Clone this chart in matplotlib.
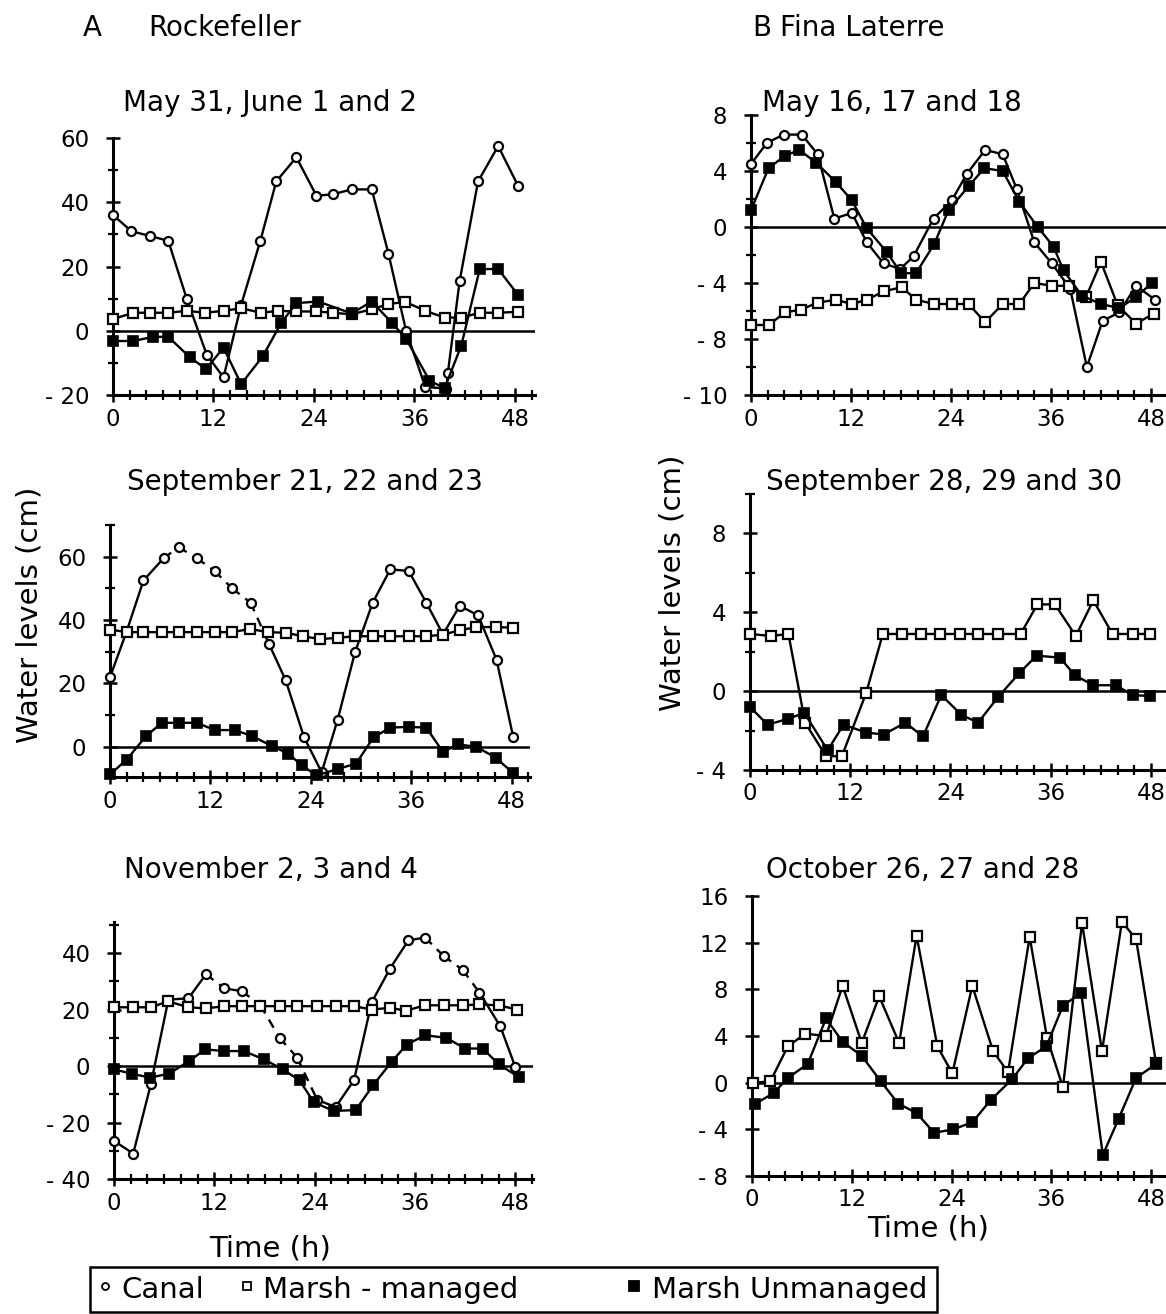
import matplotlib
matplotlib.use("Agg")
import matplotlib.pyplot as plt
from matplotlib.lines import Line2D
from matplotlib.patches import Rectangle
from matplotlib.ticker import MultipleLocator

plt.rcParams['font.family'] = ['DejaVu Sans']

W, H = 1166, 1314

# ---------------- data (time in h, water level in cm) ----------------
# A: Rockefeller, May 31 - June 2
a1_canal_t = [0, 2.2, 4.4, 6.6, 8.8, 11.2, 13.2, 15.3, 17.6, 19.5, 21.9, 24.3, 26.3, 28.5, 30.9, 32.9, 35.0, 37.3, 39.8, 40.0, 41.4, 43.6, 46.0, 48.4]
a1_canal_v = [36, 31, 29.5, 28, 10, -7.5, -14.5, 8, 28, 46.5, 54, 42, 42.5, 44, 44, 24, 0, -17.5, -18, -13, 15.5, 46.5, 57.5, 45]
a1_man_t = [0, 2.4, 4.4, 6.6, 8.8, 11, 13.2, 15.3, 17.7, 19.7, 21.9, 24.3, 26.3, 28.5, 30.9, 32.9, 34.9, 37.3, 39.6, 41.6, 43.8, 46, 48.4]
a1_man_v = [3.6, 5.6, 5.6, 5.6, 6.2, 5.6, 6.2, 7.0, 5.6, 6.2, 6, 6, 5.6, 5.1, 6.7, 8.3, 9, 6.2, 4.1, 4.1, 5.6, 5.6, 5.9]
a1_unm_t = [0, 2.4, 4.8, 6.6, 9.2, 11.1, 13.2, 15.3, 17.9, 20.1, 21.9, 24.5, 28.5, 30.9, 33.3, 35.0, 37.8, 39.6, 41.6, 43.8, 46.0, 48.4]
a1_unm_v = [-3.2, -3.2, -1.9, -1.9, -8.3, -11.9, -5.3, -16.6, -7.9, 2.5, 8.6, 9.1, 5.4, 9.1, 2.5, -2.5, -15.5, -17.9, -4.6, 19.2, 19.2, 11.1]

# A: Rockefeller, September 21 - 23
a2_canal_t = [0, 2, 4, 6.4, 8.2, 10.4, 12.5, 14.6, 16.8, 19, 21, 23.2, 25.3, 27.2, 29.3, 31.4, 33.5, 35.7, 37.8, 39.8, 41.8, 44, 46.2, 48.2]
a2_canal_v = [22, 36.5, 52.5, 59.5, 63, 59.5, 55.5, 50, 45.5, 32.5, 21, 3, -8, 8.5, 30, 45.5, 56, 55.5, 45.5, 35.5, 44.5, 41.5, 27.5, 3]
a2_man_t = [0, 2, 4, 6.2, 8.2, 10.4, 12.5, 14.6, 16.7, 18.9, 21, 23.1, 25.1, 27.2, 29.3, 31.4, 33.5, 35.7, 37.8, 39.8, 41.8, 43.8, 46.1, 48.2]
a2_man_v = [37, 36.2, 36.2, 36.2, 36.2, 36.2, 36.2, 36.2, 37.2, 36.2, 36, 34.9, 34, 34.4, 34.9, 34.9, 34.9, 34.9, 34.9, 35.4, 36.8, 37.8, 37.8, 37.6]
a2_unm_t = [0, 2, 4.3, 6.2, 8.2, 10.4, 12.5, 14.9, 17, 19.4, 21.3, 22.9, 24.7, 27.3, 29.4, 31.5, 33.5, 35.7, 37.8, 39.8, 41.6, 43.8, 46.1, 48.2]
a2_unm_v = [-8.7, -4, 3.4, 7.6, 7.6, 7.6, 5.3, 5.3, 3.4, 0.2, -2.1, -5.8, -9, -6.9, -5.3, 3, 6.1, 6.3, 6.1, -1.6, 0.8, 0, -3.4, -8.3]

# A: Rockefeller, November 2 - 4
a3_canal_t = [0, 2.3, 4.4, 6.5, 8.9, 11, 13.2, 15.3, 17.5, 19.8, 21.9, 24.3, 26.5, 28.7, 30.8, 33, 35.2, 37.2, 39.4, 41.7, 43.7, 46.2, 48]
a3_canal_v = [-26.5, -31, -6.5, 23.5, 24, 32.5, 27.5, 26.5, 21.5, 10, 3, -12, -14.5, -5, 22.5, 34.5, 44.5, 45.5, 39, 34, 26, 14, -0.5]
a3_man_t = [0, 2.3, 4.4, 6.5, 8.9, 11, 13.2, 15.3, 17.5, 19.8, 21.9, 24.3, 26.5, 28.7, 30.8, 33, 34.9, 37.2, 39.4, 41.7, 43.7, 46, 48.2]
a3_man_v = [20.8, 20.8, 20.8, 22.9, 20.8, 20.4, 21.2, 21.2, 21.2, 21.2, 21.2, 21.2, 21.2, 21.2, 20, 20.6, 19.6, 21.5, 21.5, 21.5, 21.8, 21.5, 20]
a3_unm_t = [0, 2.1, 4.3, 6.6, 9, 10.9, 13.2, 15.5, 17.9, 20.2, 22.2, 23.9, 26.3, 28.9, 31, 33.2, 35, 37.2, 39.7, 42, 44.1, 46, 48.4]
a3_unm_v = [-1.2, -2.7, -4.1, -2.7, 1.8, 5.9, 5.3, 5.3, 2.4, -1.2, -5.1, -12.9, -15.9, -15.6, -6.7, 1.5, 7.6, 10.9, 10, 6.2, 6.2, 0.6, -3.9]

# B: Fina Laterre, May 16 - 18
b1_canal_t = [0, 1.9, 3.9, 6.1, 8, 10, 12.1, 13.9, 15.9, 17.9, 19.5, 21.9, 24.1, 25.9, 28.1, 30.2, 31.9, 34, 36.1, 38.3, 40.3, 42.2, 44.2, 46.2, 48.5]
b1_canal_v = [4.5, 6, 6.6, 6.6, 5.2, 0.6, 1, -1.1, -2.6, -3, -2.1, 0.6, 1.9, 3.8, 5.5, 5.2, 2.7, -1.1, -2.6, -4.4, -10, -6.7, -6.1, -4.2, -5.2]
b1_man_t = [0, 2.1, 4.1, 6, 8, 10.2, 12.1, 13.9, 15.9, 18.1, 19.8, 22, 24.1, 26.1, 28.1, 30.2, 32.2, 34, 36.1, 38.1, 40.2, 42, 44, 46.2, 48.3]
b1_man_v = [-7, -7, -6.1, -5.9, -5.4, -5.2, -5.5, -5.2, -4.6, -4.3, -5.2, -5.5, -5.5, -5.5, -6.8, -5.5, -5.5, -4, -4.2, -4.2, -5, -2.5, -5.6, -6.9, -6.2]
b1_unm_t = [0, 2.1, 4.1, 5.8, 7.8, 10.2, 12.1, 13.9, 16.3, 18, 19.8, 22, 23.7, 26.1, 28, 30.2, 32.2, 34.4, 36.3, 37.5, 39.7, 42, 44.2, 46.2, 48.1]
b1_unm_v = [1.2, 4.2, 5.1, 5.5, 4.6, 3.2, 1.9, -0.1, -1.8, -3.3, -3.3, -1.2, 1.2, 2.9, 4.2, 4, 1.8, 0, -1.4, -3.1, -4.9, -5.5, -5.8, -5, -4]

# B: Fina Laterre, September 28 - 30
b2_man_t = [0, 2.5, 4.6, 6.6, 9.1, 11, 13.9, 15.9, 18.2, 20.5, 22.7, 25.1, 27.3, 29.7, 32.4, 34.4, 36.5, 39, 41.1, 43.4, 45.8, 47.9]
b2_man_v = [2.9, 2.8, 2.9, -1.6, -3.3, -3.3, -0.1, 2.9, 2.9, 2.9, 2.9, 2.9, 2.9, 2.9, 2.9, 4.4, 4.4, 2.8, 4.6, 2.9, 2.9, 2.9]
b2_unm_t = [0, 2.1, 4.6, 6.5, 9.3, 11.2, 13.9, 16, 18.6, 20.7, 22.9, 25.3, 27.3, 29.7, 32.2, 34.3, 37.1, 38.9, 41.1, 43.8, 45.8, 47.9]
b2_unm_v = [-0.8, -1.7, -1.4, -1.1, -3, -1.7, -2.1, -2.2, -1.6, -2.3, -0.2, -1.2, -1.6, -0.3, 0.9, 1.8, 1.7, 0.8, 0.3, 0.3, -0.2, -0.25]

# B: Fina Laterre, October 26 - 28
b3_man_t = [0.1, 2.2, 4.3, 6.4, 8.9, 10.9, 13.2, 15.3, 17.7, 19.8, 22.3, 24.1, 26.5, 29, 30.8, 33.4, 35.5, 37.4, 39.7, 42.1, 44.5, 46.2, 48.6]
b3_man_v = [0, 0.1, 3.1, 4.2, 4, 8.3, 3.4, 7.4, 3.4, 12.6, 3.1, 0.8, 8.3, 2.7, 0.9, 12.5, 3.8, -0.4, 13.7, 2.7, 13.8, 12.3, 1.7]
b3_unm_t = [0.4, 2.6, 4.3, 6.7, 8.9, 10.9, 13.2, 15.5, 17.6, 19.8, 21.9, 24.2, 26.5, 28.7, 31.3, 33.2, 35.4, 37.4, 39.6, 42.2, 44.1, 46.2, 48.6]
b3_unm_v = [-1.8, -0.9, 0.4, 1.6, 5.5, 3.5, 2.3, 0.1, -1.8, -2.6, -4.3, -4, -3.4, -1.5, 0.3, 2.1, 3.1, 6.6, 7.7, -6.2, -3.1, 0.4, 1.6]

x_ticks = [0, 12, 24, 36, 48]
x_tick_labels = ['0', '12', '24', '36', '48']

titles = ["May 31, June 1 and 2", "September 21, 22 and 23", "November 2, 3 and 4",
          "May 16, 17 and 18", "September 28, 29 and 30", "October 26, 27 and 28"]
legend_labels = ["Canal", "Marsh - managed", "Marsh Unmanaged"]

# ---------------- figure ----------------
fig = plt.figure(figsize=(W / 100, H / 100), dpi=100)


def fx(px):
    return px / W


def fy(py):
    return 1 - py / H


def make_ax(left, right, top, bottom, xmax, ylim, yticks, ylabels, yminor):
    ax = fig.add_axes([fx(left), fy(bottom), (right - left) / W, (bottom - top) / H])
    ax.set_xlim(0, xmax)
    ax.set_ylim(*ylim)
    for s in ['top', 'right']:
        ax.spines[s].set_visible(False)
    for s in ['left', 'bottom']:
        ax.spines[s].set_linewidth(2.2)
    ax.axhline(0, color='black', lw=1.8, zorder=1)
    ax.set_xticks(x_ticks)
    ax.set_xticklabels(x_tick_labels)
    ax.xaxis.set_minor_locator(MultipleLocator(2))
    ax.set_yticks(yticks)
    ax.set_yticklabels(ylabels)
    if yminor:
        ax.yaxis.set_minor_locator(MultipleLocator(yminor))
    ax.tick_params(axis='both', which='major', direction='inout', length=10, width=1.8,
                   labelsize=16.5)
    ax.tick_params(axis='both', which='minor', direction='inout', length=7, width=1.6)
    ax.tick_params(axis='y', which='major', pad=12)
    ax.tick_params(axis='x', which='major', pad=4)
    return ax


MK = {'canal': dict(marker='o', ms=6.5, mfc='white', mec='black', mew=1.6),
      'man': dict(marker='s', ms=7, mfc='white', mec='black', mew=1.6),
      'unm': dict(marker='s', ms=7.5, mfc='black', mec='black', mew=1.2)}


def plot_series(ax, t, v, kind, dashed=None):
    mk = MK[kind]
    if dashed is None:
        ax.plot(t, v, color='black', lw=1.7, zorder=3, clip_on=False, **mk)
    else:
        n = len(t)
        flags = [False] * (n - 1)
        for a, b in dashed:
            for i in range(a, b):
                flags[i] = True
        for i in range(n - 1):
            ax.plot(t[i:i + 2], v[i:i + 2], color='black', lw=1.7, zorder=2,
                    ls=(0, (4, 3)) if flags[i] else '-', clip_on=False)
        ax.plot(t, v, ls='none', zorder=3, clip_on=False, **mk)


# A panels
axA1 = make_ax(113, 535, 138, 395, 50.4, (-20, 60), [-20, 0, 20, 40, 60],
               ['- 20', '0', '20', '40', '60'], 10)
plot_series(axA1, a1_canal_t, a1_canal_v, 'canal')
plot_series(axA1, a1_man_t, a1_man_v, 'man')
plot_series(axA1, a1_unm_t, a1_unm_v, 'unm')

axA2 = make_ax(110, 530, 525, 777, 50.2, (-9.5, 70), [0, 20, 40, 60],
               ['0', '20', '40', '60'], 10)
plot_series(axA2, a2_canal_t, a2_canal_v, 'canal', dashed=[(3, 9)])
plot_series(axA2, a2_man_t, a2_man_v, 'man')
plot_series(axA2, a2_unm_t, a2_unm_v, 'unm')

axA3 = make_ax(114, 533, 922, 1179, 50.1, (-40, 51), [-40, -20, 0, 20, 40],
               ['- 40', '- 20', '0', '20', '40'], 10)
plot_series(axA3, a3_canal_t, a3_canal_v, 'canal', dashed=[(5, 6), (7, 11), (17, 20)])
plot_series(axA3, a3_man_t, a3_man_v, 'man')
plot_series(axA3, a3_unm_t, a3_unm_v, 'unm')

# B panels
axB1 = make_ax(751, 1166, 115, 395, 49.8, (-12, 8), [-12, -8, -4, 0, 4, 8],
               ['- 10', '- 8', '- 4', '0', '4', '8'], 2)
plot_series(axB1, b1_canal_t, b1_canal_v, 'canal')
plot_series(axB1, b1_man_t, b1_man_v, 'man')
plot_series(axB1, b1_unm_t, b1_unm_v, 'unm')

axB2 = make_ax(750, 1166, 494, 770, 49.8, (-4, 10), [-4, 0, 4, 8],
               ['- 4', '0', '4', '8'], 2)
plot_series(axB2, b2_man_t, b2_man_v, 'man')
plot_series(axB2, b2_unm_t, b2_unm_v, 'unm')

axB3 = make_ax(752, 1166, 896, 1176, 49.8, (-8, 16), [-8, -4, 0, 4, 8, 12, 16],
               ['- 8', '- 4', '0', '4', '8', '12', '16'], None)
plot_series(axB3, b3_man_t, b3_man_v, 'man')
plot_series(axB3, b3_unm_t, b3_unm_v, 'unm')

# ---------------- texts ----------------
TFS = 20
fig.text(fx(83), fy(28), "A", fontsize=TFS, ha='left', va='center')
fig.text(fx(148), fy(28), "Rockefeller", fontsize=TFS, ha='left', va='center')
fig.text(fx(752), fy(28), "B", fontsize=TFS, ha='left', va='center')
fig.text(fx(780), fy(28), "Fina Laterre", fontsize=TFS, ha='left', va='center')

title_pos = [(123, 103), (127, 482), (124, 870), (762, 103), (766, 482), (766, 870)]
for (x, y), tt in zip(title_pos, titles):
    fig.text(fx(x), fy(y), tt, fontsize=TFS, ha='left', va='center')

fig.text(fx(30), fy(615), "Water levels (cm)", fontsize=21, rotation=90, ha='center', va='center')
fig.text(fx(672), fy(583), "Water levels (cm)", fontsize=21, rotation=90, ha='center', va='center')
fig.text(fx(270), fy(1248), "Time (h)", fontsize=21, ha='center', va='center')
fig.text(fx(928), fy(1228), "Time (h)", fontsize=21, ha='center', va='center')

# legend box (drawn in an overlay with pixel coordinates)
ov = fig.add_axes([0, 0, 1, 1])
ov.set_xlim(0, W)
ov.set_ylim(H, 0)
ov.axis('off')
ov.add_patch(Rectangle((90, 1267), 847, 45, fill=False, ec='black', lw=1.8))
leg_marker_x = [105, 247, 634]
leg_text_x = [121, 263, 652]
leg_kinds = ['canal', 'man', 'unm']
leg_ms = [5, 6, 7]
for mx, tx, lab, kind, ms in zip(leg_marker_x, leg_text_x, legend_labels, leg_kinds, leg_ms):
    st = dict(MK[kind])
    st['ms'] = ms
    st['mew'] = 1.3
    ov.add_line(Line2D([mx], [1286], ls='none', **st))
    ov.text(tx, 1290, lab, fontsize=21, ha='left', va='center')

fig.savefig("out.png", dpi=100)
